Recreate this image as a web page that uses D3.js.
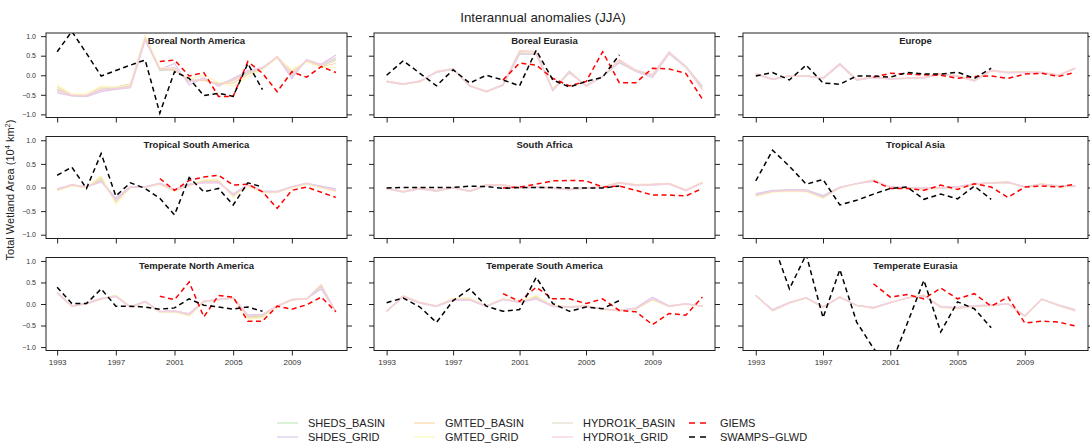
<!DOCTYPE html>
<meta charset="utf-8">

<!-- Load d3.js -->
<script src="https://d3js.org/d3.v7.min.js"></script>

<style>
  body { margin: 0; }
  svg { display: block; }
</style>

<svg id="wetland_dataviz" width="1090" height="446" style="background:#fff;"></svg>

<script>

// years of each data set
var years = [1993,1994,1995,1996,1997,1998,1999,2000,2001,2002,2003,2004,2005,2006,2007,2008,2009,2010,2011,2012];
var giemsYears = [2000,2001,2002,2003,2004,2005,2006,2007,2008,2009,2010,2011,2012];
var swampsYears = [1993,1994,1995,1996,1997,1998,1999,2000,2001,2002,2003,2004,2005,2006,2007];
var xTicks = [1993,1997,2001,2005,2009];
var yTicks = [-1,-0.5,0,0.5,1];

var regions = ["Boreal North America","Boreal Eurasia","Europe",
               "Tropical South America","South Africa","Tropical Asia",
               "Temperate North America","Temperate South America","Temperate Eurasia"];

// one row per region, same order as regions
var SHEDS_BASIN = [
  [-0.35,-0.52,-0.54,-0.36,-0.34,-0.25,0.95,0.12,0.14,-0.15,-0.12,-0.22,-0.12,0.08,0.16,0.45,0.0,0.38,0.25,0.42],
  [-0.16,-0.22,-0.16,0.08,0.15,-0.26,-0.41,-0.25,0.55,0.55,-0.35,0.1,-0.27,-0.03,0.33,0.12,0.0,0.56,0.24,-0.3],
  [0.03,-0.1,-0.02,-0.02,-0.08,0.28,-0.12,-0.05,-0.09,-0.08,-0.06,0.03,-0.02,-0.13,0.12,0.07,0.08,0.07,0.0,0.18],
  [-0.04,0.05,0.0,0.18,-0.24,0.01,0.01,0.08,-0.05,0.06,0.13,0.12,-0.15,0.05,-0.08,-0.09,0.01,0.08,0.02,-0.05],
  [-0.02,-0.09,-0.02,-0.07,0.0,-0.08,0.05,0.05,-0.01,0.01,-0.01,-0.04,-0.01,0.01,0.1,0.05,0.06,0.08,-0.06,0.1],
  [-0.15,-0.07,-0.05,-0.06,-0.19,0.0,0.08,0.15,0.01,-0.01,-0.02,-0.01,0.01,0.07,0.1,0.11,0.01,0.07,0.03,0.03],
  [0.26,-0.04,0.01,0.12,0.2,-0.07,0.06,-0.19,-0.17,-0.27,0.05,0.1,0.14,-0.3,-0.28,-0.05,0.1,0.12,0.4,-0.18],
  [-0.17,0.18,0.03,-0.05,0.12,0.13,-0.05,0.11,0.05,0.16,-0.05,-0.07,-0.05,-0.12,-0.15,-0.11,0.11,-0.05,0.0,-0.05],
  [0.2,-0.14,0.03,0.14,-0.07,0.16,-0.03,-0.09,0.03,0.14,0.2,-0.07,-0.09,-0.05,-0.03,0.0,-0.28,0.11,-0.03,-0.14]
];
var SHDES_GRID = [
  [-0.45,-0.53,-0.55,-0.42,-0.36,-0.32,0.9,0.15,0.3,-0.25,-0.06,-0.28,-0.08,0.12,0.2,0.46,-0.08,0.4,0.28,0.52],
  [-0.17,-0.24,-0.15,0.07,0.16,-0.28,-0.42,-0.26,0.54,0.54,-0.38,0.06,-0.26,-0.02,0.32,0.1,-0.06,0.55,0.2,-0.27],
  [0.02,-0.11,-0.03,-0.02,-0.09,0.27,-0.13,-0.06,-0.1,-0.08,-0.07,0.02,-0.03,-0.15,0.11,0.06,0.07,0.06,-0.01,0.17],
  [-0.03,0.06,0.01,0.12,-0.22,0.02,0.02,0.09,-0.04,0.07,0.1,0.1,-0.13,0.06,-0.07,-0.08,0.02,0.09,0.03,-0.03],
  [-0.03,-0.1,-0.03,-0.08,-0.01,-0.09,0.04,0.04,-0.02,0.0,-0.02,-0.05,-0.02,0.0,0.09,0.04,0.05,0.07,-0.07,0.09],
  [-0.13,-0.06,-0.05,-0.05,-0.17,0.01,0.08,0.13,0.02,0.0,-0.01,0.0,0.02,0.08,0.1,0.11,0.02,0.07,0.04,0.04],
  [0.25,-0.05,0.02,0.13,0.17,-0.06,0.06,-0.17,-0.16,-0.22,0.07,0.1,0.14,-0.25,-0.24,-0.04,0.1,0.12,0.35,-0.17],
  [-0.16,0.17,0.02,-0.06,0.09,0.09,-0.06,0.1,0.04,0.11,-0.06,-0.08,-0.06,-0.12,-0.14,-0.09,0.16,-0.04,0.01,-0.05],
  [0.19,-0.13,0.04,0.14,-0.06,0.15,-0.03,-0.08,0.04,0.14,0.18,-0.06,-0.08,-0.04,-0.02,0.01,-0.27,0.11,-0.02,-0.13]
];
var GMTED_BASIN = [
  [-0.3,-0.5,-0.5,-0.3,-0.3,-0.22,1.0,0.18,0.12,-0.12,-0.14,-0.2,-0.2,0.02,0.18,0.48,0.1,0.36,0.22,0.3],
  [-0.15,-0.22,-0.17,0.1,0.17,-0.27,-0.43,-0.24,0.63,0.6,-0.38,0.1,-0.28,-0.04,0.4,0.13,0.02,0.6,0.22,-0.36],
  [0.04,-0.09,-0.01,-0.01,-0.07,0.3,-0.11,-0.04,-0.08,-0.07,-0.05,0.04,-0.01,-0.13,0.13,0.08,0.09,0.08,0.01,0.19],
  [-0.06,0.04,0.0,0.22,-0.33,0.0,0.0,0.07,-0.07,0.04,0.15,0.15,-0.19,0.04,-0.1,-0.1,0.0,0.07,0.0,-0.08],
  [-0.01,-0.08,-0.01,-0.06,0.01,-0.07,0.06,0.06,0.0,0.02,0.0,-0.03,0.0,0.02,0.11,0.06,0.07,0.09,-0.05,0.11],
  [-0.18,-0.09,-0.07,-0.08,-0.22,-0.01,0.08,0.16,0.0,-0.02,-0.03,-0.02,0.0,0.06,0.1,0.11,0.0,0.07,0.02,0.02],
  [0.27,-0.06,0.0,0.11,0.19,-0.08,0.05,-0.19,-0.18,-0.26,0.05,0.1,0.13,-0.33,-0.3,-0.06,0.09,0.12,0.44,-0.19],
  [-0.18,0.19,0.04,-0.04,0.12,0.12,-0.04,0.12,0.06,0.18,-0.04,-0.06,-0.04,-0.12,-0.16,-0.12,0.1,-0.06,0.0,-0.05],
  [0.21,-0.16,0.02,0.14,-0.08,0.17,-0.04,-0.1,0.03,0.14,0.21,-0.08,-0.1,-0.06,-0.04,0.0,-0.29,0.11,-0.04,-0.16]
];
var GMTED_GRID = [
  [-0.25,-0.48,-0.48,-0.28,-0.3,-0.25,1.02,0.2,0.16,-0.1,0.0,-0.18,-0.28,-0.05,0.15,0.44,0.15,0.34,0.2,0.2],
  [-0.16,-0.23,-0.16,0.09,0.16,-0.26,-0.42,-0.25,0.61,0.6,-0.36,0.09,-0.27,-0.03,0.38,0.12,0.01,0.58,0.21,-0.34],
  [0.03,-0.1,-0.02,-0.02,-0.08,0.29,-0.12,-0.05,-0.09,-0.08,-0.06,0.03,-0.02,-0.14,0.12,0.07,0.08,0.07,0.0,0.18],
  [-0.07,0.03,0.0,0.25,-0.35,0.0,0.0,0.06,-0.08,0.04,0.16,0.16,-0.21,0.03,-0.11,-0.11,-0.01,0.07,-0.01,-0.09],
  [-0.02,-0.09,-0.02,-0.07,0.0,-0.08,0.05,0.05,-0.01,0.01,-0.01,-0.04,-0.01,0.01,0.1,0.05,0.06,0.08,-0.06,0.1],
  [-0.19,-0.1,-0.08,-0.09,-0.23,-0.01,0.08,0.17,0.0,-0.02,-0.03,-0.02,0.0,0.06,0.11,0.12,0.0,0.09,0.02,0.02],
  [0.27,-0.05,0.01,0.11,0.2,-0.07,0.05,-0.2,-0.18,-0.28,0.05,0.1,0.14,-0.35,-0.32,-0.05,0.1,0.13,0.46,-0.19],
  [-0.17,0.19,0.03,-0.05,0.13,0.14,-0.05,0.12,0.05,0.2,-0.05,-0.07,-0.05,-0.13,-0.15,-0.11,0.09,-0.05,0.0,-0.06],
  [0.2,-0.16,0.03,0.14,-0.07,0.16,-0.03,-0.09,0.03,0.15,0.22,-0.07,-0.09,-0.05,-0.03,0.0,-0.28,0.11,-0.03,-0.15]
];
var HYDRO1K_BASIN = [
  [-0.38,-0.51,-0.53,-0.35,-0.33,-0.28,0.96,0.14,0.15,-0.14,-0.1,-0.24,-0.14,0.06,0.17,0.46,0.04,0.37,0.24,0.38],
  [-0.16,-0.23,-0.16,0.08,0.16,-0.27,-0.42,-0.25,0.57,0.56,-0.37,0.08,-0.27,-0.03,0.35,0.11,-0.01,0.57,0.22,-0.32],
  [0.03,-0.1,-0.02,-0.01,-0.08,0.29,-0.12,-0.05,-0.09,-0.08,-0.06,0.03,-0.02,-0.14,0.12,0.07,0.08,0.07,0.0,0.18],
  [-0.05,0.05,0.01,0.16,-0.28,0.01,0.01,0.08,-0.06,0.05,0.12,0.13,-0.16,0.05,-0.09,-0.09,0.01,0.08,0.01,-0.06],
  [-0.02,-0.09,-0.02,-0.07,0.0,-0.08,0.05,0.05,-0.01,0.01,-0.01,-0.04,-0.01,0.01,0.1,0.05,0.06,0.08,-0.06,0.1],
  [-0.16,-0.08,-0.06,-0.07,-0.2,0.0,0.08,0.15,0.01,-0.01,-0.02,-0.01,0.01,0.07,0.1,0.11,0.01,0.07,0.03,0.03],
  [0.26,-0.05,0.01,0.12,0.18,-0.07,0.06,-0.18,-0.17,-0.25,0.06,0.1,0.14,-0.28,-0.26,-0.05,0.1,0.12,0.42,-0.18],
  [-0.17,0.18,0.03,-0.05,0.11,0.11,-0.05,0.11,0.05,0.14,-0.05,-0.07,-0.05,-0.12,-0.15,-0.11,0.11,-0.05,0.0,-0.05],
  [0.2,-0.15,0.03,0.14,-0.07,0.16,-0.03,-0.09,0.03,0.14,0.2,-0.07,-0.09,-0.05,-0.03,0.0,-0.28,0.11,-0.03,-0.15]
];
var HYDRO1k_GRID = [
  [-0.4,-0.52,-0.52,-0.38,-0.35,-0.3,0.92,0.16,0.2,-0.18,-0.08,-0.26,-0.1,0.1,0.19,0.47,-0.02,0.39,0.27,0.45],
  [-0.15,-0.22,-0.15,0.09,0.17,-0.27,-0.41,-0.24,0.62,0.61,-0.4,0.1,-0.28,-0.03,0.39,0.13,0.01,0.6,0.22,-0.38],
  [0.04,-0.1,-0.02,-0.02,-0.07,0.3,-0.11,-0.05,-0.09,-0.07,-0.06,0.03,-0.02,-0.14,0.13,0.07,0.08,0.07,0.0,0.18],
  [-0.04,0.06,0.01,0.14,-0.27,0.01,0.01,0.08,-0.06,0.05,0.11,0.12,-0.17,0.05,-0.09,-0.1,0.01,0.1,0.01,-0.06],
  [-0.02,-0.09,-0.02,-0.06,0.0,-0.07,0.05,0.05,-0.01,0.01,-0.01,-0.04,-0.01,0.01,0.1,0.05,0.06,0.08,-0.06,0.1],
  [-0.17,-0.08,-0.06,-0.07,-0.21,0.0,0.09,0.15,0.01,-0.01,-0.02,-0.01,0.01,0.07,0.1,0.12,0.01,0.07,0.03,0.03],
  [0.27,-0.05,0.01,0.12,0.18,-0.08,0.06,-0.18,-0.16,-0.24,0.06,0.11,0.15,-0.27,-0.25,-0.05,0.11,0.12,0.44,-0.17],
  [-0.17,0.18,0.03,-0.05,0.11,0.1,-0.05,0.11,0.05,0.13,-0.05,-0.07,-0.05,-0.12,-0.15,-0.11,0.12,-0.05,0.0,-0.05],
  [0.2,-0.15,0.03,0.15,-0.07,0.16,-0.03,-0.09,0.03,0.14,0.2,-0.07,-0.09,-0.05,-0.03,0.0,-0.28,0.12,-0.03,-0.15]
];
// GIEMS 2000-2012
var GIEMS = [
  [0.35,0.39,-0.02,0.07,-0.54,-0.54,0.35,0.05,-0.42,0.09,-0.05,0.22,0.07],
  [-0.12,0.31,0.26,-0.08,-0.27,-0.16,0.6,-0.19,-0.19,0.18,0.16,0.05,-0.61],
  [-0.05,0.05,0.03,0.01,0.0,-0.08,-0.03,-0.02,-0.08,0.03,0.05,-0.03,0.07],
  [0.19,-0.06,0.15,0.22,0.26,0.05,0.07,-0.09,-0.44,-0.06,0.01,-0.1,-0.21],
  [-0.01,0.01,0.07,0.14,0.15,0.14,0.01,0.03,-0.06,-0.16,-0.16,-0.18,-0.02],
  [0.14,-0.02,-0.02,-0.06,0.05,-0.04,0.08,0.01,-0.21,0.01,0.03,0.01,0.07],
  [0.18,0.1,0.51,-0.3,0.2,0.16,-0.4,-0.4,-0.05,-0.12,-0.02,0.16,-0.18],
  [0.24,0.06,0.39,0.12,0.12,0.01,0.12,-0.15,-0.18,-0.48,-0.22,-0.26,0.16],
  [0.47,0.16,0.22,0.12,0.37,0.12,0.24,-0.05,0.16,-0.44,-0.4,-0.42,-0.51]
];
// SWAMPS-GLWD 1993-2007
var SWAMPS = [
  [0.6,1.12,0.56,-0.02,0.12,0.26,0.39,-0.97,0.09,-0.08,-0.52,-0.46,-0.54,0.3,-0.37],
  [0.0,0.37,0.05,-0.27,0.14,-0.2,0.0,-0.12,-0.27,0.64,-0.12,-0.3,-0.16,-0.05,0.52],
  [-0.02,0.07,-0.12,0.26,-0.2,-0.23,-0.02,-0.02,-0.05,0.07,0.03,0.03,0.08,-0.08,0.18],
  [0.26,0.43,-0.02,0.72,-0.18,0.1,-0.02,-0.23,-0.58,0.21,-0.09,-0.02,-0.37,0.1,0.01],
  [-0.01,0.0,0.0,0.0,0.0,0.03,0.02,-0.02,0.0,0.0,0.0,-0.01,-0.01,-0.01,0.03],
  [0.14,0.79,0.45,0.07,0.17,-0.37,-0.27,-0.14,-0.02,0.01,-0.25,-0.14,-0.24,0.03,-0.25],
  [0.39,0.01,0.01,0.35,-0.05,-0.05,-0.07,-0.12,-0.09,0.12,-0.03,-0.07,-0.12,-0.07,-0.17],
  [0.03,0.14,-0.07,-0.43,0.08,0.35,-0.05,-0.17,-0.13,0.62,0.01,-0.17,-0.07,-0.11,0.08],
  [1.1,1.45,0.35,1.15,-0.32,0.8,-0.42,-1.03,-1.45,-0.46,0.55,-0.65,0.05,-0.11,-0.55]
];

var models = [
  {name: "SHEDS_BASIN",   values: SHEDS_BASIN,   color: "#c4e8bc"},
  {name: "SHDES_GRID",    values: SHDES_GRID,    color: "#dcc8ec"},
  {name: "GMTED_BASIN",   values: GMTED_BASIN,   color: "#fcd6aa"},
  {name: "GMTED_GRID",    values: GMTED_GRID,    color: "#fbf8bd"},
  {name: "HYDRO1K_BASIN", values: HYDRO1K_BASIN, color: "#e5dccb"},
  {name: "HYDRO1k_GRID",  values: HYDRO1k_GRID,  color: "#f9cde0"}
];
var obs = [
  {name: "GIEMS",       values: GIEMS,  yrs: giemsYears,  color: "#ff0000"},
  {name: "SWAMPS\u2212GLWD", values: SWAMPS, yrs: swampsYears, color: "#000000"}
];

// panel boxes (pixels)
var colBox = [[46,347],[374,715],[743,1088]];
var rowBox = [[33,117.5],[136.5,238.5],[257.5,350.5]];
var font = "'Liberation Sans', Arial, Helvetica, sans-serif";

var svg = d3.select("#wetland_dataviz");

// lattice-like padding of 4%
var xPad = (d3.max(years) - d3.min(years)) * 0.04;
var yPad = 2 * 0.04;

regions.forEach(function(region, i) {
  var c = i % 3, r = Math.floor(i / 3);

  var x = d3.scaleLinear()
    .domain([d3.min(years) - xPad, d3.max(years) + xPad])
    .range(colBox[c]);
  var y = d3.scaleLinear()
    .domain([-1 - yPad, 1 + yPad])
    .range([rowBox[r][1], rowBox[r][0]]);

  var g = svg.append("g");

  // clip the lines to the panel
  g.append("clipPath")
    .attr("id", "clip" + i)
    .append("rect")
      .attr("x", colBox[c][0]).attr("y", rowBox[r][0])
      .attr("width", colBox[c][1] - colBox[c][0])
      .attr("height", rowBox[r][1] - rowBox[r][0]);

  var lines = g.append("g").attr("clip-path", "url(#clip" + i + ")");

  // model lines
  models.forEach(function(m) {
    lines.append("path")
      .datum(m.values[i])
      .attr("fill", "none")
      .attr("stroke", m.color)
      .attr("stroke-width", 1.2)
      .attr("d", d3.line()
        .x(function(d, k) { return x(years[k]); })
        .y(function(d) { return y(d); }));
  });

  // observation lines
  obs.forEach(function(o) {
    lines.append("path")
      .datum(o.values[i])
      .attr("fill", "none")
      .attr("stroke", o.color)
      .attr("stroke-width", 1.5)
      .attr("stroke-dasharray", "5,3.5")
      .attr("d", d3.line()
        .x(function(d, k) { return x(o.yrs[k]); })
        .y(function(d) { return y(d); }));
  });

  // panel box
  g.append("rect")
    .attr("x", colBox[c][0]).attr("y", rowBox[r][0])
    .attr("width", colBox[c][1] - colBox[c][0])
    .attr("height", rowBox[r][1] - rowBox[r][0])
    .attr("fill", "none")
    .attr("stroke", "#222")
    .attr("stroke-width", 1);

  // axes
  var yLeft = g.append("g")
    .attr("transform", "translate(" + colBox[c][0] + ",0)")
    .call(d3.axisLeft(y).tickValues(yTicks).tickSize(5).tickPadding(5)
      .tickFormat(c == 0 ? d3.format(".1f") : ""));
  var yRight = g.append("g")
    .attr("transform", "translate(" + colBox[c][1] + ",0)")
    .call(d3.axisRight(y).tickValues(yTicks).tickSize(5).tickFormat(""));
  var xBottom = g.append("g")
    .attr("transform", "translate(0," + rowBox[r][1] + ")")
    .call(d3.axisBottom(x).tickValues(xTicks).tickSize(5).tickPadding(4)
      .tickFormat(r == 2 ? d3.format("d") : ""));

  [yLeft, yRight, xBottom].forEach(function(a) {
    a.select(".domain").remove();
    a.selectAll("line").attr("stroke", "#222");
    a.selectAll("text")
      .attr("fill", "#333")
      .style("font-family", font);
  });
  yLeft.selectAll("text").style("font-size", "7px");
  xBottom.selectAll("text").style("font-size", "8px");

  // panel title
  g.append("text")
    .attr("x", (colBox[c][0] + colBox[c][1]) / 2)
    .attr("y", rowBox[r][0] + 11)
    .attr("text-anchor", "middle")
    .style("font-family", font)
    .style("font-size", "9.5px")
    .style("font-weight", "bold")
    .attr("fill", "#222")
    .text(region);
});

// main title
svg.append("text")
  .attr("x", 543).attr("y", 22)
  .attr("text-anchor", "middle")
  .style("font-family", font)
  .style("font-size", "13.3px")
  .attr("fill", "#222")
  .text("Interannual anomalies (JJA)");

// y axis label
var ylab = svg.append("text")
  .attr("transform", "translate(14,190) rotate(-90)")
  .attr("text-anchor", "middle")
  .style("font-family", font)
  .style("font-size", "11px")
  .attr("fill", "#222");
ylab.append("tspan").text("Total Wetland Area (10");
ylab.append("tspan").attr("dy", -4).style("font-size", "7.5px").text("4");
ylab.append("tspan").attr("dy", 4).text(" km");
ylab.append("tspan").attr("dy", -4).style("font-size", "7.5px").text("2");
ylab.append("tspan").attr("dy", 4).text(")");

// legend
var legendItems = models.concat(obs);
var legCols = [277, 414, 552, 689];
var legRows = [423, 437];
legendItems.forEach(function(d, k) {
  var lx = legCols[Math.floor(k / 2)], ly = legRows[k % 2];
  var dashed = k >= 6;
  svg.append("line")
    .attr("x1", lx).attr("x2", lx + 21)
    .attr("y1", ly).attr("y2", ly)
    .attr("stroke", d.color)
    .attr("stroke-width", dashed ? 1.5 : 1.2)
    .attr("stroke-dasharray", dashed ? "6,5" : null);
  svg.append("text")
    .attr("x", lx + 31).attr("y", ly + 4)
    .style("font-family", font)
    .style("font-size", "11px")
    .attr("fill", "#222")
    .text(d.name);
});

</script>
